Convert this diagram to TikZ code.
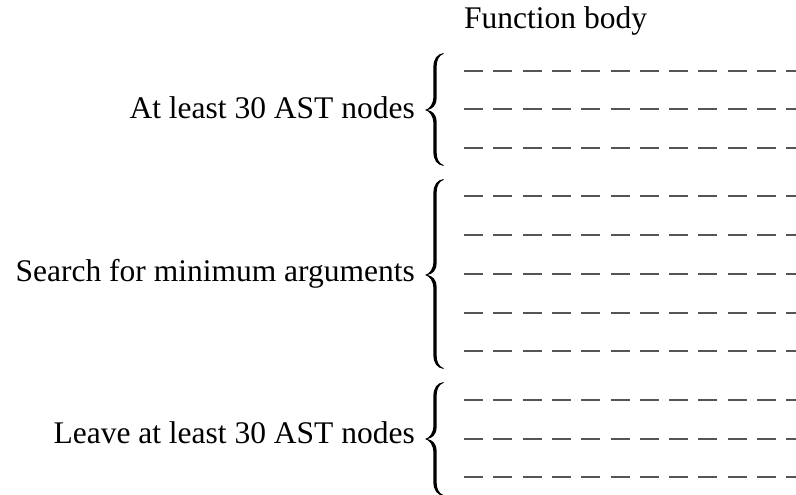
\documentclass[tikz,border=0pt]{standalone}
\usepackage{fontspec}
\setmainfont{Liberation Serif}
\definecolor{dashgray}{HTML}{555555}
\tikzset{
  lbl/.style={inner sep=0pt, font=\fontsize{31.5}{36}\selectfont},
  rowline/.style={draw=dashgray, line width=1.8pt, dash pattern=on 19pt off 10.3pt},
  bracefill/.style={fill=black, draw=none}
}
\newcommand\mybrace[3]{%
  \fill[bracefill] (443.5,#1)
    .. controls (437,#1+1) and (433.4,#1+6) .. (433.4,#1+14)
    -- (433.4,#2-14)
    .. controls (433.4,#2-5) and (429,#2-1) .. (425,#2)
    .. controls (429,#2+1) and (433.4,#2+5) .. (433.4,#2+14)
    -- (433.4,#3-14)
    .. controls (433.4,#3-6) and (437,#3-1) .. (443.5,#3)
    -- (443.5,#3-0.9)
    .. controls (439,#3-2.5) and (436.6,#3-7) .. (436.6,#3-14)
    -- (436.6,#2+12)
    .. controls (436.6,#2+4) and (432,#2+0.8) .. (427.2,#2)
    .. controls (432,#2-0.8) and (436.6,#2-4) .. (436.6,#2-12)
    -- (436.6,#1+14)
    .. controls (436.6,#1+7) and (439,#1+2.5) .. (443.5,#1+0.9)
    -- cycle;}
\begin{document}
\begin{tikzpicture}[x=1pt,y=-1pt]
\useasboundingbox (0,0) rectangle (796,495);
\node[lbl, anchor=base west] (title) at (464,28.5) {Function body};
\node[lbl, anchor=base east] (g1) at (415,118) {At least 30 AST nodes};
\node[lbl, anchor=base east] (g2) at (415,281) {Search for minimum arguments};
\node[lbl, anchor=base east] (g3) at (415,443) {Leave at least 30 AST nodes};
\mybrace{53}{110}{166}
\mybrace{179}{275}{369}
\mybrace{382}{439}{496}
\foreach \yy in {71,109.3,147.6,196,235,274,313,351,400,439,477}
  \draw[rowline] (464,\yy) -- (796,\yy);
\end{tikzpicture}
\end{document}
